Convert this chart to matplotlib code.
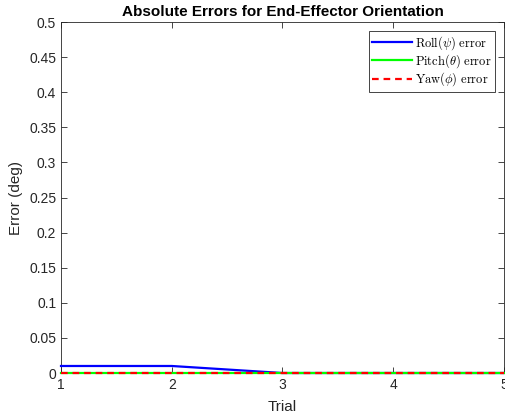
import matplotlib
matplotlib.use("Agg")
import matplotlib.pyplot as plt
import numpy as np

plt.rcParams['font.family'] = ['Liberation Sans', 'DejaVu Sans']
plt.rcParams['mathtext.fontset'] = 'cm'

trials = [1, 2, 3, 4, 5]
roll_err = [0.01, 0.01, 0.0, 0.0, 0.0]
pitch_err = [0.0, 0.0, 0.0, 0.0, 0.0]
yaw_err = [0.0, 0.0, 0.0, 0.0, 0.0]
yticks = [0, 0.05, 0.1, 0.15, 0.2, 0.25, 0.3, 0.35, 0.4, 0.45, 0.5]
ytick_labels = ['0', '0.05', '0.1', '0.15', '0.2', '0.25', '0.3', '0.35', '0.4', '0.45', '0.5']

fig = plt.figure(figsize=(5.05, 4.17), dpi=100)
ax = fig.add_axes([0.1208, 0.1055, 0.877, 0.8417])
ax.plot(trials, roll_err, color='#0000ff', lw=1.6, label=r'$\mathrm{Roll}(\psi)\ \mathrm{error}$', clip_on=False, zorder=3)
ax.plot(trials, pitch_err, color='#00ff00', lw=1.6, label=r'$\mathrm{Pitch}(\theta)\ \mathrm{error}$', clip_on=False, zorder=4)
ax.plot(trials, yaw_err, color='#ff0000', lw=1.6, ls=(0, (3, 2.2)), label=r'$\mathrm{Yaw}(\phi)\ \mathrm{error}$', clip_on=False, zorder=5)

ax.set_xlim(1, 5)
ax.set_ylim(0, 0.5)
ax.set_xticks(trials)
ax.set_yticks(yticks)
ax.set_yticklabels(ytick_labels)
c = '#262626'
ax.tick_params(direction='in', top=True, right=True, length=4, width=0.6, colors=c, labelsize=10)
for s in ax.spines.values():
    s.set_color(c)
    s.set_linewidth(0.6)
ax.set_xlabel('Trial', fontsize=11, color=c, labelpad=6)
ax.set_ylabel('Error (deg)', fontsize=11, color=c, labelpad=4)
ax.set_title('Absolute Errors for End-Effector Orientation', fontsize=11, fontweight='bold', pad=4)
leg = ax.legend(loc='upper right', fontsize=9, fancybox=False, framealpha=1,
                edgecolor=c, handlelength=3.2, borderaxespad=0.7, labelspacing=0.05,
                borderpad=0.25, handletextpad=0.25)
leg.get_frame().set_linewidth(0.6)
fig.savefig('out.png', dpi=100)
